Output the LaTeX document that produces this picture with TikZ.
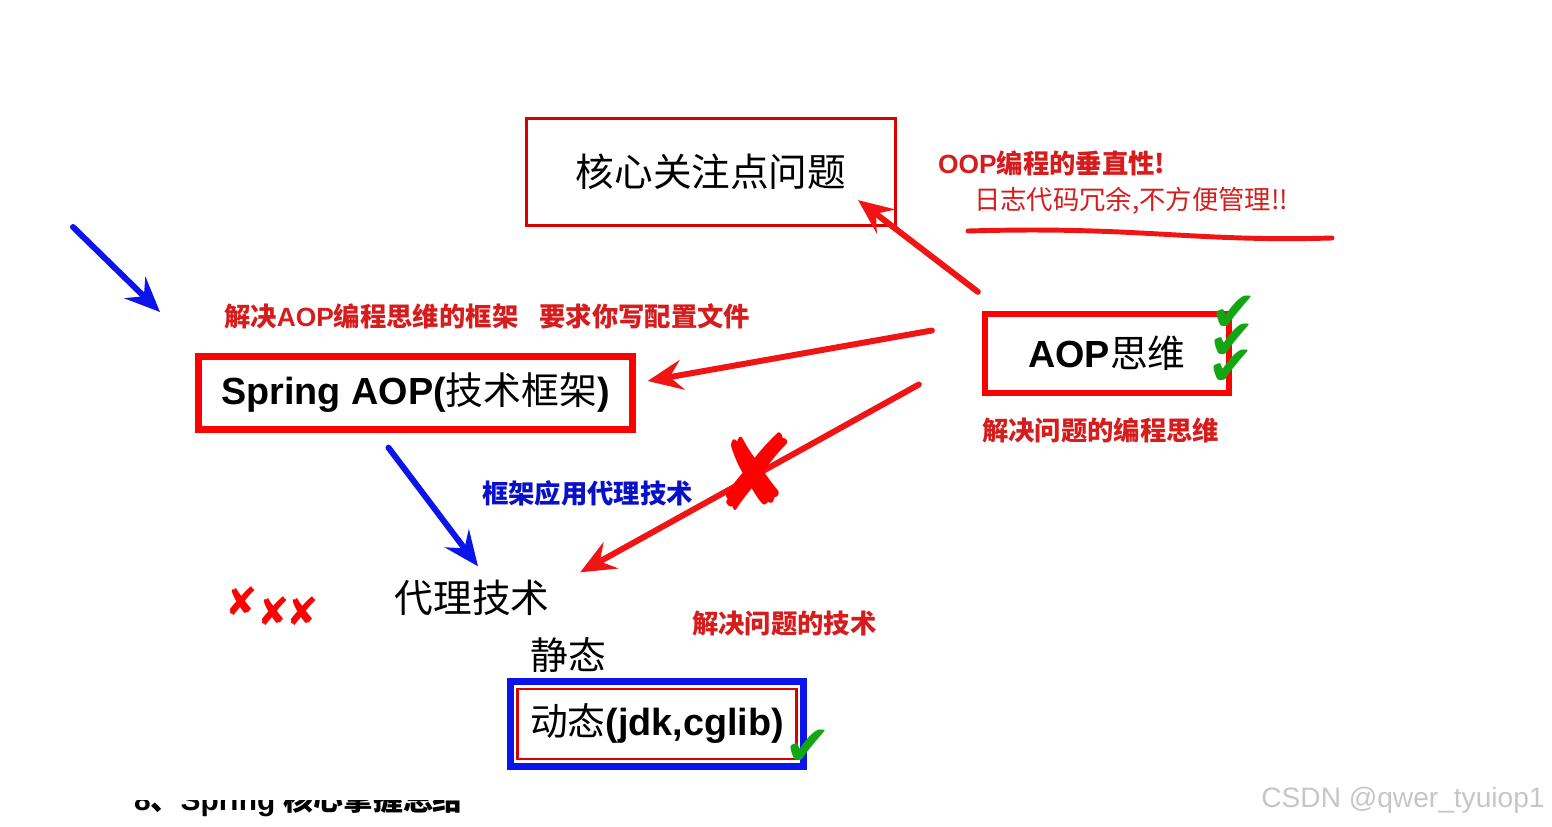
\documentclass[tikz,border=0pt]{standalone}
\usepackage{fontspec}
\setmainfont{Liberation Sans}
\newfontfamily\cjk{Noto Sans CJK SC}
\newfontfamily\symb{DejaVu Sans}
\usetikzlibrary{arrows.meta, fit, calc}

\definecolor{notered}{RGB}{214,28,28}
\definecolor{arrowred}{RGB}{240,20,20}
\definecolor{arrowblue}{RGB}{10,20,235}
\definecolor{checkgreen}{RGB}{20,165,20}

\begin{document}
\begin{tikzpicture}[
    x=0.02cm, y=-0.02cm,
    thinbox/.style={draw=red!85!black, line width=1.8pt, align=center},
    thickbox/.style={draw=red, line width=3.6pt, align=center},
    bigtext/.style={font=\fontsize{22}{26}\selectfont\cjk, inner sep=2pt},
    boldtext/.style={font=\fontsize{21.5}{26}\selectfont\bfseries},
    note/.style={font=\fontsize{15}{18}\selectfont\cjk\bfseries, text=notered, inner sep=1pt, anchor=west},
    bluenote/.style={note, text=arrowblue!85!black},
    redarrow/.style={-{Stealth[length=7mm, width=6mm, inset=2.5mm]}, line width=3.4pt, draw=arrowred, line cap=round},
    bluearrow/.style={-{Stealth[length=7mm, width=6mm, inset=2.5mm]}, line width=3.4pt, draw=arrowblue, line cap=round},
    tick/.style={font=\fontsize{32}{34}\selectfont\symb, text=checkgreen, inner sep=0pt},
    cross/.style={font=\fontsize{22}{24}\selectfont\symb, text=red, inner sep=0pt},
]
\useasboundingbox (0,0) rectangle (1552,826);

% Core concern box
\node[thinbox, bigtext, minimum width=7.38cm, minimum height=2.14cm] (core) at (711,172) {核心关注点问题};

% Notes on OOP
\node[note] (oopnote) at (936,163) {{\rmfamily OOP}编程的垂直性!};
\node[note, font=\fontsize{15}{18}\selectfont\cjk] (lognote) at (972,201) {日志代码冗余,不方便管理!!};
\coordinate (lineA) at (968,231);
\coordinate (lineB) at (1332,238);
\draw[draw=arrowred, line width=2.8pt, line cap=round] (lineA) .. controls (1140,226) and (1190,242) .. (lineB);

% AOP thinking
\node[thickbox, boldtext, minimum width=4.88cm, minimum height=1.58cm] (aop) at (1107,353.5) {AOP{\cjk\mdseries 思维}};
\node[note] (aopnote) at (980,430) {解决问题的编程思维};
\node[tick] (tickA) at (1234,314) {✔};
\node[tick] (tickB) at (1232,342) {✔};
\node[tick] (tickC) at (1231,368) {✔};

% Spring AOP framework
\node[note] (framenote) at (222,316) {解决{\rmfamily AOP}编程思维的框架\hspace{0.8em}要求你写配置文件};
\node[thickbox, boldtext, minimum width=8.68cm, minimum height=1.46cm] (spring) at (415.5,393) {Spring AOP({\cjk\mdseries 技术框架})};

% Proxy technique
\node[bigtext] (proxy) at (472,598) {代理技术};
\node[bluenote] (proxynote) at (480,493) {框架应用代理技术};
\node[cross] (xmarks) at (272,606) {✘\raisebox{-6pt}{✘\hspace{-2pt}✘}};
\node[bigtext, font=\fontsize{21.5}{26}\selectfont\cjk] (static) at (568,655) {静态};
\node[note] (technote) at (690,624) {解决问题的技术};

% Dynamic proxy
\node[draw=red!85!black, line width=1.2pt, boldtext, minimum width=5.58cm, minimum height=1.4cm] (dynamic) at (657,724) {{\cjk\mdseries 动态}(jdk,cglib)};
\node[draw=arrowblue, line width=4pt, fit=(dynamic), inner sep=3.5pt] (dynframe) {};
\node[tick] (tickD) at (808,748) {✔};

% Connections
\draw[redarrow] ([shift={(-4,-19)}]aop.north west) -- ([shift={(-39,-27)}]core.south east);
\draw[redarrow] ([shift={(-50,-23)}]aop.west) -- ([shift={(12,-12)}]spring.east);
\draw[redarrow] ([shift={(-63,31)}]aop.west) -- ([shift={(27,-4)}]proxy.north east);
\draw[bluearrow] ([shift={(-27,15)}]spring.south) -- ([shift={(6,-10)}]proxy.north);
\coordinate (blueA) at (73,227);
\coordinate (blueB) at (160,312);
\draw[bluearrow] (blueA) -- (blueB);

% Cross over the red arrow
\node[cross, font=\fontsize{46}{48}\selectfont\symb, xscale=1.2, yscale=1.3] (bigcross) at (755,472) {✘};

% Cut-off heading and watermark
\begin{scope}
\clip (0,800) rectangle (1552,826);
\node[font=\fontsize{17}{20}\selectfont\bfseries, anchor=west] (heading) at (128,801) {8{\cjk 、}Spring {\cjk 核心掌握总结}};
\end{scope}
\node[font=\fontsize{16}{18}\selectfont, text=gray!45] (mark) at (1403,800) {CSDN @qwer\_tyuiop1};

\end{tikzpicture}
\end{document}
